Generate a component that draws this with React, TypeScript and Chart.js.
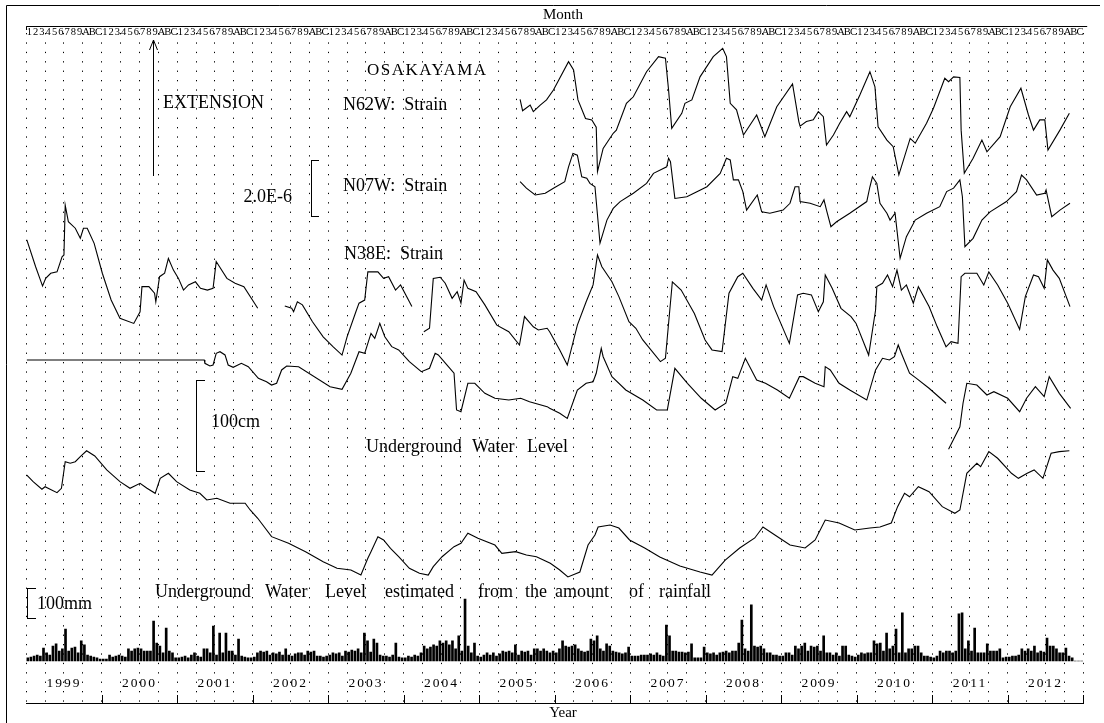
import React, { useEffect, useRef } from 'react';
import { Chart, registerables } from 'chart.js';

Chart.register(...registerables);

type Pt = [number, number | null];

// x values are months counted from January 1999 (0 .. 168)
const MONTH_LABELS = ['1', '2', '3', '4', '5', '6', '7', '8', '9', 'A', 'B', 'C'];
const YEAR_LABELS = ['1999', '2000', '2001', '2002', '2003', '2004', '2005', '2006', '2007', '2008', '2009', '2010', '2011', '2012'];

// Strain, relative, in units of 1.0E-6
const N62W_STRAIN: Pt[] = [
  [78.5, 2.83], [78.9, 2.43], [80.1, 2.63], [80.6, 2.40], [81.7, 2.63], [82.7, 2.81], [83.8, 3.16], [86.2, 4.15], [87.0, 3.86], [87.7, 2.81],
  [88.9, 2.16], [89.9, 2.11], [90.6, 1.85], [90.8, 0.29], [91.7, 1.11], [93.3, 1.64], [93.8, 1.75], [95.4, 2.69], [96.5, 2.92], [98.6, 3.80],
  [100.5, 4.33], [101.6, 4.27], [102.1, 3.16], [102.6, 1.81], [104.2, 2.34], [104.7, 2.69], [105.8, 2.81], [107.1, 3.62], [109.2, 4.33], [110.7, 4.62],
  [111.3, 4.33], [111.9, 2.69], [112.9, 2.46], [114.0, 1.58], [116.1, 2.28], [117.4, 1.52], [119.3, 2.57], [121.8, 3.37], [122.8, 2.05], [123.0, 1.89],
  [124.0, 2.05], [125.1, 2.11], [125.9, 2.40], [126.7, 2.22], [127.2, 1.23], [128.3, 1.58], [129.3, 1.99], [130.4, 2.40], [130.9, 2.22], [132.5, 2.98],
  [134.1, 3.80], [134.9, 3.27], [135.4, 1.87], [136.8, 1.40], [137.8, 1.17], [138.7, 0.18], [140.5, 1.46], [141.3, 1.29], [143.1, 1.99], [144.2, 2.52],
  [146.0, 3.57], [146.6, 3.45], [147.4, 3.62], [148.4, 3.60], [148.6, 1.75], [149.1, 0.24], [150.5, 0.76], [151.9, 1.40], [152.7, 0.99], [154.8, 1.52],
  [156.4, 2.57], [158.1, 3.22], [159.3, 2.28], [160.1, 1.75], [161.1, 2.11], [161.9, 2.11], [162.4, 1.05], [164.3, 1.75], [165.8, 2.34],
];

const N07W_STRAIN: Pt[] = [
  [78.5, 2.75], [79.5, 2.52], [80.9, 2.28], [82.5, 2.34], [83.8, 2.52], [85.6, 2.75], [86.2, 3.27], [86.9, 3.74], [87.6, 3.68], [88.3, 2.92],
  [89.1, 2.87], [89.6, 2.69], [90.4, 2.57], [91.2, 0.59], [92.3, 1.40], [93.3, 1.81], [94.4, 2.05], [96.5, 2.34], [98.6, 2.69], [99.7, 3.04],
  [101.8, 3.27], [102.1, 3.57], [102.4, 3.45], [103.1, 2.16], [105.0, 2.22], [108.2, 2.57], [110.3, 3.04], [111.3, 3.57], [111.9, 3.51], [112.4, 2.81],
  [113.2, 2.81], [113.9, 2.40], [114.5, 1.75], [116.2, 2.28], [116.9, 1.69], [118.2, 1.64], [120.3, 1.75], [121.4, 1.99], [122.2, 2.57], [122.8, 2.57],
  [123.0, 2.05], [124.6, 1.99], [126.2, 1.87], [126.8, 2.11], [127.2, 1.75], [127.9, 1.17], [128.8, 1.34], [130.9, 1.64], [133.6, 2.05], [134.1, 2.57],
  [134.5, 2.92], [135.2, 2.69], [135.7, 1.99], [136.8, 1.64], [137.3, 1.40], [138.1, 1.64], [138.9, 0.06], [139.9, 0.82], [141.3, 1.40], [143.1, 1.64],
  [145.2, 1.87], [146.3, 2.40], [147.4, 2.52], [148.4, 2.81], [148.8, 2.22], [149.2, 0.47], [150.5, 0.76], [151.9, 1.40], [153.2, 1.69], [155.8, 2.05],
  [157.4, 2.40], [158.2, 2.98], [159.0, 2.81], [160.6, 2.28], [161.9, 2.34], [162.1, 2.46], [163.0, 1.52], [164.3, 1.75], [165.9, 1.99],
];

const N38E_STRAIN: Pt[] = [
  [0.1, 4.74], [1.5, 3.80], [2.6, 3.12], [3.1, 3.39], [3.9, 3.57], [4.9, 3.62], [5.7, 4.15], [6.0, 4.21], [6.2, 5.96], [6.7, 5.38],
  [7.8, 5.15], [8.6, 4.80], [9.1, 5.15], [9.7, 5.15], [10.8, 4.62], [12.1, 3.57], [13.5, 2.63], [14.9, 1.99], [17.1, 1.81], [18.1, 2.22],
  [18.4, 3.10], [19.5, 3.10], [20.4, 2.87], [20.6, 2.57], [21.2, 3.45], [22.0, 3.57], [22.6, 4.09], [23.4, 3.68], [24.2, 3.39], [25.0, 2.98],
  [25.8, 3.16], [26.9, 3.27], [27.7, 3.04], [28.8, 2.98], [29.7, 3.04], [30.2, 3.98], [31.9, 3.39], [33.2, 3.22], [34.6, 3.10], [36.8, 2.34],
  [38.0, null],
  [41.1, 2.42], [42.2, 2.34], [42.5, 2.22], [43.1, 2.57], [43.9, 2.46], [45.5, 1.87], [47.2, 1.34], [48.8, 0.99], [50.2, 0.70], [51.0, 1.34],
  [52.4, 2.22], [52.9, 2.52], [53.8, 2.63], [54.3, 3.62], [55.9, 3.62], [56.8, 3.39], [57.6, 3.45], [58.7, 2.98], [59.5, 3.16], [61.3, 2.40],
  [62.0, null],
  [63.2, 1.52], [64.1, 1.64], [64.7, 3.39], [65.8, 3.43], [66.6, 3.22], [67.7, 2.69], [68.5, 2.92], [69.1, 2.52], [69.6, 3.33], [70.2, 3.04],
  [71.5, 2.92], [72.9, 2.46], [74.8, 1.75], [76.7, 1.52], [78.4, 1.05], [79.2, 2.05], [80.6, 1.69], [81.4, 1.58], [82.8, 1.64], [83.2, 1.52],
  [84.8, 0.88], [86.0, 0.35], [87.6, 1.75], [89.0, 2.57], [90.1, 3.16], [90.8, 4.21], [91.5, 3.80], [93.1, 3.27], [94.2, 2.75], [95.8, 1.87],
  [96.9, 1.64], [98.0, 1.23], [100.8, 0.47], [101.6, 0.59], [102.7, 3.27], [104.1, 2.98], [106.2, 2.16], [107.9, 1.23], [109.0, 0.88], [110.6, 0.82],
  [111.7, 2.87], [113.1, 3.45], [113.9, 3.57], [115.5, 3.04], [116.9, 2.63], [117.6, 3.16], [118.8, 2.40], [121.3, 1.11], [122.6, 2.81], [123.5, 2.87],
  [124.8, 2.81], [125.9, 2.22], [126.7, 2.57], [127.0, 3.51], [128.1, 3.04], [129.5, 2.34], [131.1, 2.05], [131.9, 1.81], [133.9, 0.70], [135.0, 2.28],
  [135.2, 3.10], [136.1, 3.22], [136.9, 3.51], [137.7, 3.10], [138.4, 3.68], [139.1, 2.98], [139.9, 3.16], [141.0, 2.52], [141.8, 3.10], [143.5, 2.40],
  [144.8, 1.69], [146.2, 0.99], [147.0, 1.17], [148.1, 1.11], [148.6, 3.45], [149.2, 3.57], [151.1, 3.57], [152.2, 3.16], [153.0, 3.62], [154.4, 3.16],
  [156.0, 2.52], [157.9, 1.60], [158.8, 2.75], [160.1, 3.51], [160.9, 3.45], [161.8, 3.04], [162.3, 4.04], [163.2, 3.68], [164.2, 3.39], [165.9, 2.40],
];

// Observed underground water level, relative, cm
const WATER_LEVEL_CM: Pt[] = [
  [0.1, 65.2], [28.3, 65.2], [28.4, 61.6], [29.2, 58.7], [29.7, 59.8], [30.2, 72.5], [30.8, 74.2], [31.6, 70.7], [32.1, 59.8], [32.9, 57.3],
  [34.2, 61.6], [35.3, 57.9], [36.9, 45.3], [38.2, 41.6], [39.0, 38.0], [39.8, 39.9], [40.6, 54.4], [41.4, 58.7], [43.3, 57.9], [48.3, 36.2],
  [50.2, 33.4], [51.6, 50.8], [52.9, 74.2], [53.8, 72.5], [54.8, 94.2], [55.4, 88.8], [56.2, 105.1], [57.0, 90.5], [58.1, 79.7], [59.2, 76.1],
  [60.9, 63.4], [62.8, 52.5], [64.1, 56.2], [65.0, 72.5], [65.5, 70.7], [67.1, 57.9], [68.0, 50.8], [68.4, 10.9], [69.1, 9.0], [70.2, 39.9],
  [71.3, 39.9], [72.9, 29.0], [74.5, 23.6], [76.7, 21.7], [78.6, 23.6], [80.0, 19.9], [82.8, 14.5], [83.2, 12.7], [84.8, 7.3], [86.0, 1.8],
  [87.6, 32.6], [89.0, 39.9], [90.1, 41.6], [90.6, 50.8], [91.4, 77.9], [91.7, 68.8], [93.1, 47.1], [95.3, 32.6], [98.0, 21.7], [100.2, 10.9],
  [101.9, 10.9], [103.1, 56.2], [105.1, 39.9], [107.3, 23.6], [109.5, 10.9], [111.2, 18.2], [112.3, 47.1], [113.1, 45.3], [114.3, 67.0], [116.1, 43.5],
  [117.5, 39.9], [119.4, 32.6], [121.3, 23.6], [122.9, 47.1], [123.5, 47.1], [125.4, 39.9], [126.8, 36.2], [127.0, 58.0], [127.8, 54.4], [129.2, 39.9],
  [130.9, 32.6], [133.6, 21.7], [135.0, 54.4], [136.1, 67.1], [137.2, 65.2], [138.0, 68.8], [138.6, 81.5], [139.1, 72.5], [140.4, 50.8], [141.5, 45.3],
  [143.5, 34.5], [146.2, 18.2],
  [146.4, null],
  [146.6, -31.8], [148.4, -7.3], [148.9, 18.2], [149.5, 39.9], [151.1, 38.0], [152.7, 27.2], [153.8, 30.8], [156.0, 23.6], [157.9, 9.0], [159.0, 23.6],
  [160.4, 36.2], [161.8, 25.4], [162.6, 47.1], [164.2, 29.0], [166.0, 12.7],
];

// Underground water level estimated from rainfall, relative, cm
const ESTIMATED_LEVEL_CM: Pt[] = [
  [0.1, 114.1], [1.1, 106.9], [2.5, 98.6], [3.0, 101.4], [3.8, 98.6], [4.9, 94.9], [5.6, 99.7], [6.2, 128.6], [7.0, 126.9], [7.8, 128.6],
  [8.6, 134.0], [9.6, 140.5], [10.9, 134.8], [12.8, 119.6], [14.9, 106.9], [16.5, 99.7], [18.1, 105.1], [19.2, 99.7], [20.5, 94.2], [21.3, 110.5],
  [22.6, 116.0], [23.9, 106.9], [26.0, 97.8], [27.6, 94.2], [28.7, 87.0], [30.3, 88.8], [32.4, 83.4], [34.8, 83.4], [35.6, 76.1], [36.8, 67.1],
  [39.0, 47.1], [41.7, 39.9], [44.4, 30.8], [47.2, 19.9], [49.4, 12.7], [51.6, 10.9], [53.2, 5.4], [54.3, 23.6], [54.8, 30.8], [55.9, 47.1],
  [56.8, 43.5], [57.9, 34.5], [59.2, 25.3], [60.9, 12.7], [62.5, 7.3], [63.9, 5.4], [64.7, 14.5], [66.1, 25.3], [68.0, 36.2], [69.1, 39.9],
  [70.2, 50.8], [71.8, 45.3], [74.5, 38.0], [75.6, 29.0], [77.8, 30.8], [79.5, 27.2], [81.1, 25.3], [83.3, 18.2], [84.8, 10.9], [86.1, 3.3],
  [88.0, 8.7], [89.3, 38.0], [90.4, 48.9], [90.9, 57.6], [92.8, 59.8], [94.2, 56.5], [95.9, 43.5], [98.3, 34.8], [100.7, 25.0], [103.9, 15.2],
  [107.1, 8.7], [109.0, 5.4], [111.1, 21.7], [113.4, 34.8], [115.8, 45.7], [117.1, 57.6], [119.0, 48.9], [121.4, 38.0], [123.8, 34.8], [125.4, 43.5],
  [127.0, 65.2], [129.2, 62.0], [131.7, 54.4], [134.1, 56.5], [135.7, 57.6], [137.5, 62.0], [138.5, 79.7], [139.6, 94.2], [140.4, 90.5], [141.8, 101.4],
  [143.5, 96.0], [145.6, 79.7], [147.6, 72.5], [148.4, 76.1], [149.5, 116.0], [151.1, 126.9], [151.7, 123.2], [153.0, 139.5], [154.4, 132.3], [156.6, 116.0],
  [157.7, 110.5], [159.1, 116.0], [160.2, 119.6], [161.6, 110.5], [162.9, 137.7], [164.2, 139.5], [165.8, 140.5],
];

// Rainfall, mm (largest daily amount in each half month), one row per year
const RAINFALL_MM: number[][] = [
  [10, 13, 16, 19, 16, 42, 26, 19, 48, 55, 32, 39, 103, 32, 42, 45, 26, 65, 52, 19, 16, 13, 10, 6],
  [6, 6, 19, 13, 16, 19, 16, 13, 39, 32, 39, 42, 39, 32, 32, 32, 129, 58, 48, 26, 106, 32, 26, 10],
  [10, 13, 16, 10, 19, 26, 16, 13, 39, 39, 26, 113, 19, 90, 26, 90, 32, 32, 19, 71, 16, 13, 10, 10],
  [13, 26, 32, 29, 32, 19, 26, 23, 29, 19, 39, 19, 16, 23, 26, 26, 19, 32, 29, 32, 16, 16, 13, 16],
  [19, 26, 23, 26, 16, 32, 29, 35, 32, 39, 26, 90, 65, 29, 71, 58, 19, 16, 16, 13, 19, 58, 13, 10],
  [10, 16, 13, 19, 16, 26, 48, 39, 45, 52, 48, 65, 58, 65, 52, 65, 39, 81, 32, 200, 48, 26, 58, 16],
  [13, 19, 26, 19, 26, 16, 23, 32, 29, 32, 26, 52, 19, 32, 29, 32, 19, 39, 39, 32, 39, 32, 26, 32],
  [26, 39, 65, 48, 45, 48, 52, 39, 32, 29, 32, 71, 65, 81, 39, 32, 55, 48, 32, 29, 26, 23, 26, 45],
  [16, 16, 16, 19, 19, 19, 23, 19, 26, 19, 16, 116, 81, 32, 32, 29, 29, 26, 29, 55, 10, 10, 10, 45],
  [26, 23, 26, 19, 26, 29, 32, 26, 32, 32, 58, 132, 39, 32, 181, 48, 45, 48, 39, 26, 26, 19, 19, 16],
  [16, 26, 26, 19, 48, 39, 48, 58, 32, 48, 45, 48, 32, 81, 26, 26, 19, 26, 16, 48, 48, 19, 16, 13],
  [19, 26, 23, 26, 26, 65, 55, 58, 32, 90, 39, 48, 103, 26, 155, 26, 39, 39, 48, 48, 26, 16, 16, 13],
  [10, 16, 32, 26, 32, 32, 26, 32, 152, 155, 39, 65, 32, 106, 26, 26, 26, 55, 32, 32, 32, 39, 10, 13],
  [13, 16, 16, 19, 39, 32, 39, 32, 48, 26, 32, 29, 74, 48, 48, 39, 26, 26, 42, 16, 10, 0, 0, 0],
];

const SERIF = '"Liberation Serif", "Times New Roman", Times, serif';

// Layout of the plotting frame (pixels)
const AREA_TOP = 33;
const AREA_BOTTOM = 703;
const AREA_LEFT = 26.2;
const AREA_RIGHT = 1083.2;

// hidden vertical axis: a value of 0 sits at pixel "zeroPx", "pxPerUnit" pixels per unit
function hiddenAxis(zeroPx: number, pxPerUnit: number) {
  return {
    type: 'linear' as const,
    display: false,
    min: -(AREA_BOTTOM - zeroPx) / pxPerUnit,
    max: (zeroPx - AREA_TOP) / pxPerUnit,
  };
}

function toXY(points: Pt[]) {
  return points.map(([x, y]) => ({ x, y }));
}

function lineDataset(label: string, points: Pt[], yAxisID: string) {
  return {
    type: 'line' as const,
    label,
    data: toXY(points),
    yAxisID,
    xAxisID: 'x',
    borderColor: '#000',
    borderWidth: 1.1,
    pointRadius: 0,
    tension: 0,
    spanGaps: false,
    fill: false,
  };
}

function text(ctx: CanvasRenderingContext2D, s: string, x: number, y: number, size: number, align: CanvasTextAlign = 'left', spacing = 0) {
  ctx.font = `${size}px ${SERIF}`;
  ctx.textAlign = align;
  ctx.textBaseline = 'middle';
  (ctx as any).letterSpacing = `${spacing}px`;
  ctx.fillText(s, x, y);
  (ctx as any).letterSpacing = '0px';
}

function seg(ctx: CanvasRenderingContext2D, x1: number, y1: number, x2: number, y2: number) {
  ctx.beginPath();
  ctx.moveTo(x1, y1);
  ctx.lineTo(x2, y2);
  ctx.stroke();
}

const annotationPlugin = {
  id: 'osakayamaAnnotations',
  afterDraw(chart: any) {
    const ctx: CanvasRenderingContext2D = chart.ctx;
    const xs = chart.scales.x;
    const area = chart.chartArea;
    ctx.save();
    ctx.strokeStyle = '#000';
    ctx.fillStyle = '#000';
    ctx.lineWidth = 1;

    // outer frame
    seg(ctx, 6.5, 5.5, 1100, 5.5);
    seg(ctx, 6.5, 5.5, 6.5, 723);

    // month header
    text(ctx, 'Month', 563, 15, 15, 'center');
    seg(ctx, area.left, 26.5, area.right + 4, 26.5);
    seg(ctx, Math.round(area.left) + 0.5, 26.5, Math.round(area.left) + 0.5, 30);
    for (let k = 0; k < YEAR_LABELS.length * 12; k++) {
      const px = xs.getPixelForValue(k + 0.5);
      text(ctx, MONTH_LABELS[k % 12], px, 32, 10.5, 'center');
    }

    // year labels and year ticks
    for (let i = 0; i < YEAR_LABELS.length; i++) {
      text(ctx, YEAR_LABELS[i], xs.getPixelForValue(i * 12 + 6), 683, 13.5, 'center', 2);
    }
    for (let i = 1; i <= YEAR_LABELS.length; i++) {
      const px = Math.round(xs.getPixelForValue(i * 12)) + 0.5;
      seg(ctx, px, area.bottom - 8, px, area.bottom);
    }
    text(ctx, 'Year', 563, 713, 15, 'center');

    // extension arrow
    seg(ctx, 153.5, 176, 153.5, 40);
    seg(ctx, 153.5, 40, 149.5, 50);
    seg(ctx, 153.5, 40, 157.5, 50);
    text(ctx, 'EXTENSION', 163, 103.5, 18);

    text(ctx, 'OSAKAYAMA', 367, 71, 17, 'left', 1.5);
    text(ctx, 'N62W:  Strain', 343, 105, 18);
    text(ctx, 'N07W:  Strain', 343, 186, 18);
    text(ctx, 'N38E:  Strain', 344, 254, 18);

    // strain scale bar
    seg(ctx, 311.5, 160, 311.5, 217);
    seg(ctx, 311.5, 160.5, 319, 160.5);
    seg(ctx, 311.5, 216.5, 319, 216.5);
    text(ctx, '2.0E-6', 292, 197.5, 18, 'right');

    // water level scale bar
    seg(ctx, 196.5, 380, 196.5, 472);
    seg(ctx, 196.5, 380.5, 205, 380.5);
    seg(ctx, 196.5, 471.5, 205, 471.5);
    text(ctx, '100cm', 211, 422, 18);

    const words1: [string, number][] = [['Underground', 366], ['Water', 472], ['Level', 527]];
    words1.forEach(([w, x]) => text(ctx, w, x, 447, 18));

    // rainfall scale bar
    seg(ctx, 27.5, 588, 27.5, 619);
    seg(ctx, 27.5, 588.5, 36, 588.5);
    seg(ctx, 27.5, 618.5, 36, 618.5);
    text(ctx, '100mm', 37, 604, 18);

    const words2: [string, number][] = [
      ['Underground', 155], ['Water', 265], ['Level', 325], ['estimated', 385], ['from', 478],
      ['the', 525], ['amount', 555], ['of', 629], ['rainfall', 659],
    ];
    words2.forEach(([w, x]) => text(ctx, w, x, 592, 18));

    ctx.restore();
  },
};

export default function App() {
  const canvasRef = useRef<HTMLCanvasElement | null>(null);

  useEffect(() => {
    document.body.style.margin = '0';
    const canvas = canvasRef.current;
    if (!canvas) return;

    const rainPoints: { x: number; y: number }[] = [];
    RAINFALL_MM.forEach((row, yi) => {
      row.forEach((mm, hi) => {
        rainPoints.push({ x: yi * 12 + hi * 0.5 + 0.25, y: mm });
      });
    });

    const chart = new Chart(canvas, {
      type: 'line',
      data: {
        datasets: [
          lineDataset('N62W: Strain', N62W_STRAIN, 'yN62W'),
          lineDataset('N07W: Strain', N07W_STRAIN, 'yN07W'),
          lineDataset('N38E: Strain', N38E_STRAIN, 'yN38E'),
          lineDataset('Underground Water Level', WATER_LEVEL_CM, 'yWater'),
          lineDataset('Underground Water Level estimated from the amount of rainfall', ESTIMATED_LEVEL_CM, 'yEstimated'),
          {
            type: 'bar' as const,
            label: 'Rainfall',
            data: rainPoints,
            xAxisID: 'x',
            yAxisID: 'yRain',
            backgroundColor: '#000',
            borderWidth: 0,
            barThickness: 2,
          } as any,
        ],
      },
      options: {
        animation: false,
        responsive: false,
        maintainAspectRatio: false,
        devicePixelRatio: 1,
        events: [],
        layout: {
          padding: {
            left: AREA_LEFT,
            right: 1104 - AREA_RIGHT,
            top: AREA_TOP,
            bottom: 723 - AREA_BOTTOM,
          },
        },
        plugins: {
          legend: { display: false },
          tooltip: { enabled: false },
          title: { display: false },
        },
        scales: {
          x: {
            type: 'linear',
            position: 'bottom',
            min: 0,
            max: 168,
            offset: false,
            ticks: { display: false, stepSize: 3 },
            grid: { color: '#000', lineWidth: 1, drawTicks: false, offset: false, drawOnChartArea: true },
            border: { display: true, color: '#000', width: 1, dash: [1.3, 8.1] },
            title: { display: false },
          },
          yN62W: hiddenAxis(180, 28.5),
          yN07W: hiddenAxis(260, 28.5),
          yN38E: hiddenAxis(375, 28.5),
          yWater: hiddenAxis(420, 0.92),
          yEstimated: hiddenAxis(580, 0.92),
          yRain: hiddenAxis(661, 0.31),
        },
      } as any,
      plugins: [annotationPlugin],
    });

    return () => chart.destroy();
  }, []);

  return (
    <div style={{ width: 1104, height: 723, background: '#fff' }}>
      <canvas ref={canvasRef} width={1104} height={723} style={{ display: 'block' }} />
    </div>
  );
}
